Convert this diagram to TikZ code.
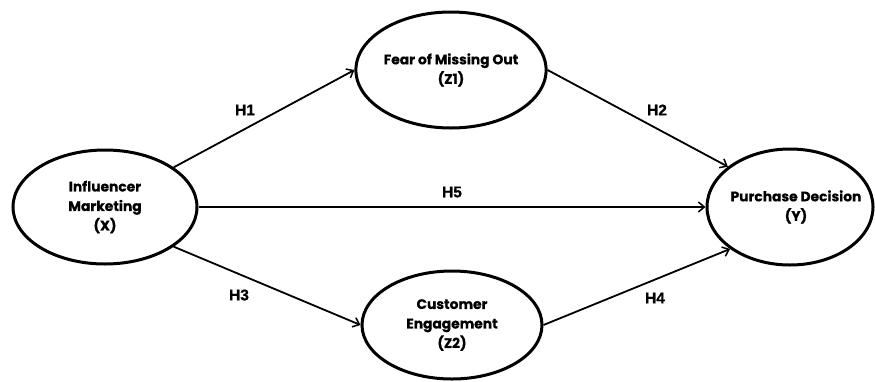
\documentclass[tikz,border=0pt]{standalone}
\usepackage{fontspec}
\newfontfamily\nodefont{Poppins Bold}[FakeBold=0.6]
\newfontfamily\hfont{Liberation Sans Bold}[FakeBold=0.8]
\usetikzlibrary{shapes.geometric,arrows.meta}
\tikzset{
  construct/.style={ellipse, draw=black, line width=3pt, inner sep=0pt, align=center,
    font=\nodefont\fontsize{13.8}{19.5}\selectfont},
  path/.style={draw=black, line width=1.8pt, -{Straight Barb[length=6pt,width=10pt,line width=1.5pt]}},
  hyp/.style={font=\hfont\fontsize{15.5}{17}\selectfont, inner sep=0pt}
}
\begin{document}
\begin{tikzpicture}[x=1pt,y=-1pt]
\useasboundingbox[fill=white] (0,0) rectangle (875,381);
\node[construct, minimum width=184pt, minimum height=114pt] (X) at (105,207) {Influencer\\Marketing\\(X)};
\node[construct, minimum width=184pt, minimum height=116pt] (Z1) at (451,70) {Fear of Missing Out\\(Z1)};
\node[construct, minimum width=180pt, minimum height=108pt] (Z2) at (452,325) {Customer\\Engagement\\(Z2)};
\node[construct, minimum width=166pt, minimum height=116pt,
  label={[align=center, font=\nodefont\fontsize{13.8}{19.5}\selectfont, xshift=6pt]center:Purchase Decision\\(Y)}] (Y) at (790,207) {};
\draw[path] (X.30) -- (Z1.west);
\draw[path] (Z1.east) -- (Y.147);
\draw[path] (X.east) -- (Y.west);
\draw[path] (X.-30) -- (Z2.west);
\draw[path] (Z2.east) -- (Y.-145);
\node[hyp] (h1) at (245,110) {H1};
\node[hyp] (h2) at (657,110) {H2};
\node[hyp] (h5) at (452,192) {H5};
\node[hyp] (h3) at (239,295) {H3};
\node[hyp] (h4) at (655,298) {H4};
\end{tikzpicture}
\end{document}
